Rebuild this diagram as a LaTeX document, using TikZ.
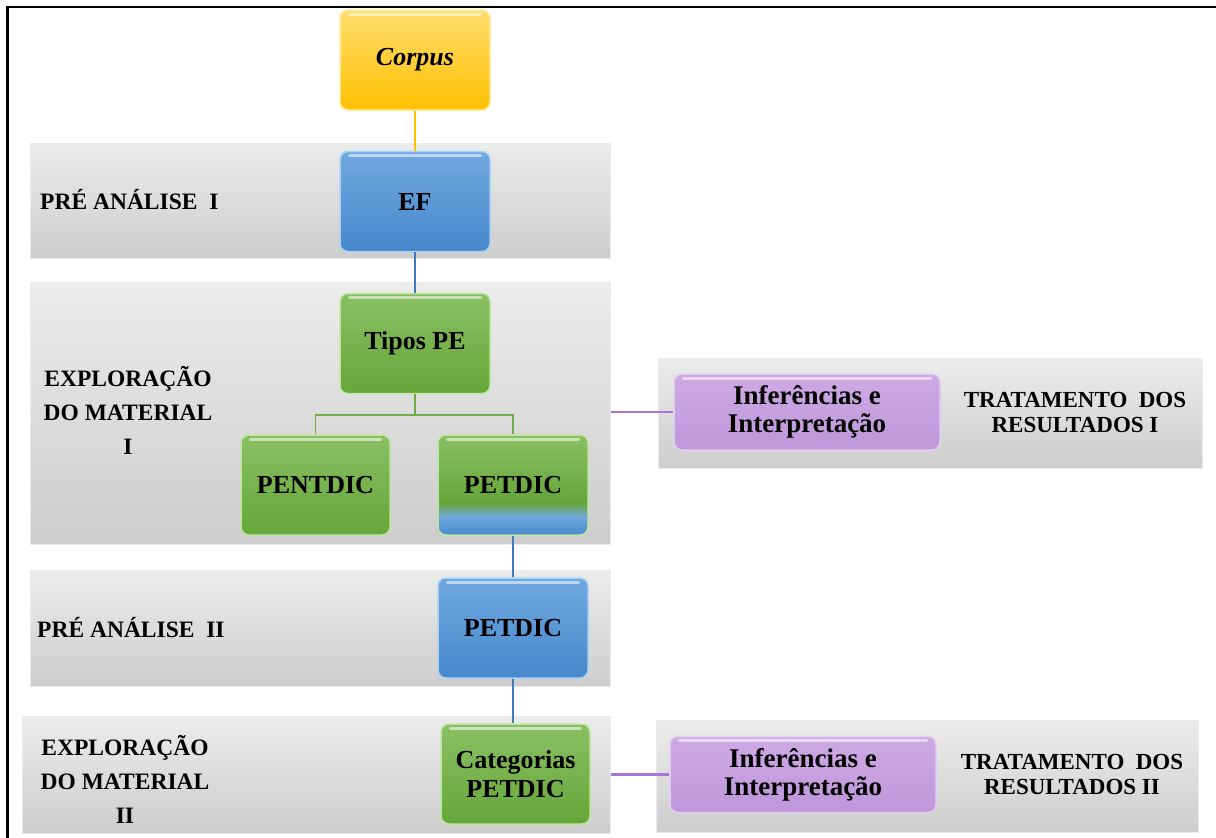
\documentclass[tikz,border=0pt]{standalone}
\usepackage{fontspec}
\setmainfont{Liberation Serif}
\usetikzlibrary{calc}
\definecolor{gtop}{RGB}{138,192,100}
\definecolor{gbot}{RGB}{102,166,56}
\definecolor{gedge}{RGB}{190,230,160}
\definecolor{btop}{RGB}{112,168,224}
\definecolor{bbot}{RGB}{70,136,204}
\definecolor{bedge}{RGB}{170,210,245}
\definecolor{ytop}{RGB}{255,222,110}
\definecolor{ybot}{RGB}{255,192,0}
\definecolor{yedge}{RGB}{255,236,160}
\definecolor{ptop}{RGB}{206,170,228}
\definecolor{pbot}{RGB}{190,150,218}
\definecolor{pedge}{RGB}{228,205,242}
\definecolor{lorange}{RGB}{255,192,0}
\definecolor{lblue}{RGB}{62,122,192}
\definecolor{lgreen}{RGB}{112,173,71}
\definecolor{lpurple}{RGB}{170,115,218}
\definecolor{bandtop}{RGB}{236,236,236}
\definecolor{bandbot}{RGB}{205,205,205}
\pgfdeclareverticalshading{greenblue}{100bp}{color(0bp)=(bbot); color(25bp)=(bbot); color(34bp)=(btop); color(41bp)=(gbot); color(75bp)=(gtop); color(100bp)=(gtop)}
\newcommand{\glossy}[1]{%
  \draw[white, opacity=0.55, line width=3pt, line cap=round] ($(#1.north west)+(10,5)$) -- ($(#1.north east)+(-10,5)$);}
\begin{document}
\begin{tikzpicture}[x=1pt,y=-1pt,
  band/.style={draw=white!92!black, line width=1pt, top color=bandtop, bottom color=bandbot, inner sep=0pt},
  boxbase/.style={rectangle, rounded corners=8pt, line width=1.5pt, minimum width=150pt, minimum height=100pt, inner sep=2pt, align=center, font=\fontsize{26}{29}\selectfont\bfseries},
  gbox/.style={boxbase, draw=gedge, top color=gtop, bottom color=gbot},
  bbox/.style={boxbase, draw=bedge, top color=btop, bottom color=bbot},
  ybox/.style={boxbase, draw=yedge, top color=ytop, bottom color=ybot},
  gbbox/.style={boxbase, draw=gedge, shading=greenblue},
  pbox/.style={rectangle, rounded corners=8pt, line width=1.5pt, draw=pedge, top color=ptop, bottom color=pbot, minimum width=266pt, minimum height=76pt, align=center, font=\fontsize{27}{28}\selectfont\bfseries},
  lab/.style={font=\fontsize{23.5}{34}\selectfont\bfseries, align=center, inner sep=0pt},
  rlab/.style={font=\fontsize{23}{25}\selectfont\bfseries, align=center, inner sep=0pt},
  conn/.style={line width=1.8pt}
]
\useasboundingbox (0,0) rectangle (1216,838);
% frame
\draw[line width=2.4pt] (7.5,838) -- (7.5,7) -- (1216,7);
% bands
\node[band, minimum width=580pt, minimum height=115pt] (b1) at (320,200.5) {};
\node[band, minimum width=580pt, minimum height=262pt] (b2) at (320,413) {};
\node[band, minimum width=580pt, minimum height=116pt] (b3) at (320,628) {};
\node[band, minimum width=588pt, minimum height=117pt] (b4) at (316,774.5) {};
\node[band, minimum width=544pt, minimum height=110pt] (rb1) at (930,413) {};
\node[band, minimum width=542pt, minimum height=112pt] (rb2) at (927,776) {};
% labels
\node[lab, anchor=west] (l1) at (40,200) {PRÉ ANÁLISE\ \ I};
\node[lab] (l2) at (128,410) {EXPLORAÇÃO\\DO MATERIAL\\I};
\node[lab, anchor=west] (l3) at (37,628) {PRÉ ANÁLISE\ \ II};
\node[lab] (l4) at (125,779) {EXPLORAÇÃO\\DO MATERIAL\\II};
\node[rlab] (r1) at (1075,412) {TRATAMENTO\ \ DOS\\RESULTADOS I};
\node[rlab] (r2) at (1072,774) {TRATAMENTO\ \ DOS\\RESULTADOS II};
% boxes
\node[ybox] (corpus) at (415,60) {\itshape Corpus};
\node[bbox] (ef) at (415,201.5) {EF};
\node[gbox] (tipos) at (415,343.5) {Tipos PE};
\node[gbox, minimum width=149pt] (pentdic) at (315.5,485) {PENTDIC};
\node[gbbox] (petdic) at (513,485) {PETDIC};
\node[bbox] (petdic2) at (513,628) {PETDIC};
\node[gbox, minimum width=149pt] (categ) at (515.5,774) {Categorias\\PETDIC};
\node[pbox] (inf1) at (807,412) {Inferências e\\Interpretação};
\node[pbox] (inf2) at (803,774.5) {Inferências e\\Interpretação};
\glossy{corpus}\glossy{ef}\glossy{tipos}\glossy{pentdic}\glossy{petdic}\glossy{petdic2}\glossy{categ}\glossy{inf1}\glossy{inf2}
% connectors
\draw[conn, lorange] (corpus.south) -- (ef.north);
\draw[conn, lblue] (ef.south) -- (tipos.north);
\draw[conn, lgreen] (tipos.south) -- ++(0,21) -| (pentdic.north);
\draw[conn, lgreen] (tipos.south) -- ++(0,21) -| (petdic.north);
\draw[conn, lblue] (petdic.south) -- (petdic2.north);
\draw[conn, lblue] (petdic2.south) -- (categ.north -| petdic2.south);
\draw[lpurple, line width=2.6pt] (b2.east |- inf1.west) -- (inf1.west);
\draw[lpurple, line width=2.6pt] (b4.east |- inf2.west) -- (inf2.west);
\end{tikzpicture}
\end{document}
